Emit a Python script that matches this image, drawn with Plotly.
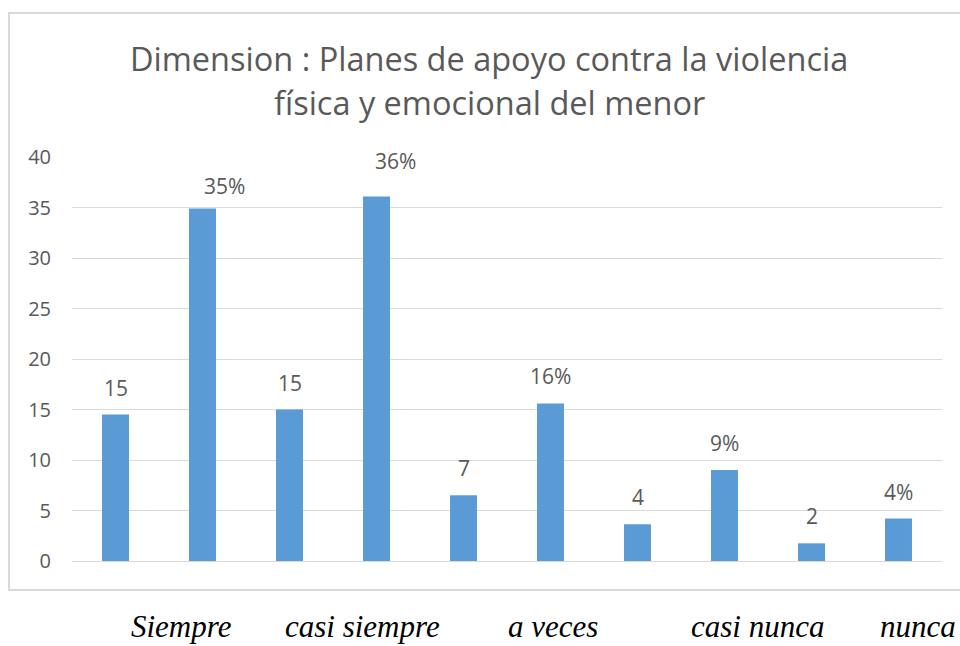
import plotly.graph_objects as go

# ---- data ----
bar_ids = ["Siempre n", "Siempre %", "casi siempre n", "casi siempre %",
           "a veces n", "a veces %", "casi nunca n", "casi nunca %",
           "nunca n", "nunca %"]
bar_values = [14.5, 34.9, 15.0, 36.1, 6.5, 15.6, 3.65, 9.0, 1.75, 4.2]
bar_labels = ["15", "35%", "15", "36%", "7", "16%", "4", "9%", "2", "4%"]
category_names = ["Siempre", "casi siempre", "a veces", "casi nunca", "nunca"]
y_ticks = [0, 5, 10, 15, 20, 25, 30, 35, 40]
title_lines = ["Dimension : Planes de apoyo contra la violencia",
               "física y emocional del menor"]

# ---- styling / layout helpers ----
label_dx = [0, 22, 0, 19, 0, 0, 0, 0, 0, 0]
label_dy = [0, -4, 0, 8, 0, 0, 0, 0, 0, 0]
cat_label_px = [181, 362, 553, 757, 918]   # pixel centers of bottom labels

W, H = 960, 646
L, R, T, B = 72, 18, 157, 85
pw = W - L - R
ph = H - T - B

def px_to_paper_x(px):
    return (px - L) / pw

def py_to_paper_y(py):
    return (H - B - py) / ph

GRAY = "#595959"
BLUE = "#5b9bd5"

fig = go.Figure()
fig.add_trace(go.Bar(
    x=bar_ids, y=bar_values,
    marker=dict(color=BLUE, line=dict(width=0)),
    width=0.31, hoverinfo="skip",
))

annotations = []
for i, (xid, v, lab) in enumerate(zip(bar_ids, bar_values, bar_labels)):
    annotations.append(dict(
        x=xid, y=v, xref="x", yref="y", text=lab, showarrow=False,
        yanchor="bottom", xanchor="center",
        xshift=label_dx[i], yshift=11 + label_dy[i],
        font=dict(family="Open Sans", size=21, color=GRAY),
    ))

for name, px in zip(category_names, cat_label_px):
    annotations.append(dict(
        x=px_to_paper_x(px), y=py_to_paper_y(645), xref="paper", yref="paper",
        text=f"<i>{name}</i>", showarrow=False, xanchor="center", yanchor="bottom",
        borderpad=0,
        font=dict(family="Liberation Serif", size=31, color="#000000"),
    ))

for line, py in zip(title_lines, [58, 102]):
    annotations.append(dict(
        x=px_to_paper_x(489), y=py_to_paper_y(py), xref="paper", yref="paper",
        text=line, showarrow=False, xanchor="center", yanchor="middle",
        font=dict(family="Open Sans", size=32.5, color=GRAY),
    ))

fig.update_layout(
    width=W, height=H,
    margin=dict(l=L, r=R, t=T, b=B, pad=0),
    paper_bgcolor="white", plot_bgcolor="white",
    showlegend=False,
    bargap=0.69,
    annotations=annotations,
    shapes=[dict(
        type="rect", xref="paper", yref="paper",
        x0=px_to_paper_x(9), x1=px_to_paper_x(966),
        y0=py_to_paper_y(590), y1=py_to_paper_y(13),
        line=dict(color="#d9d9d9", width=2), fillcolor="rgba(0,0,0,0)",
        layer="below",
    )],
    xaxis=dict(showticklabels=False, showgrid=False, zeroline=False,
               showline=False, ticks="", fixedrange=True),
    yaxis=dict(range=[0, 40], tickvals=y_ticks, showgrid=True,
               gridcolor="#d9d9d9", gridwidth=1, zeroline=True,
               zerolinecolor="#d9d9d9", zerolinewidth=1, showline=False,
               ticks="", ticklabelstandoff=20,
               tickfont=dict(family="Open Sans", size=20, color=GRAY)),
)

fig.write_html(
    "out.html",
    config={"displayModeBar": False},
    post_script="document.body.style.margin='0';document.body.style.overflow='hidden';",
)
